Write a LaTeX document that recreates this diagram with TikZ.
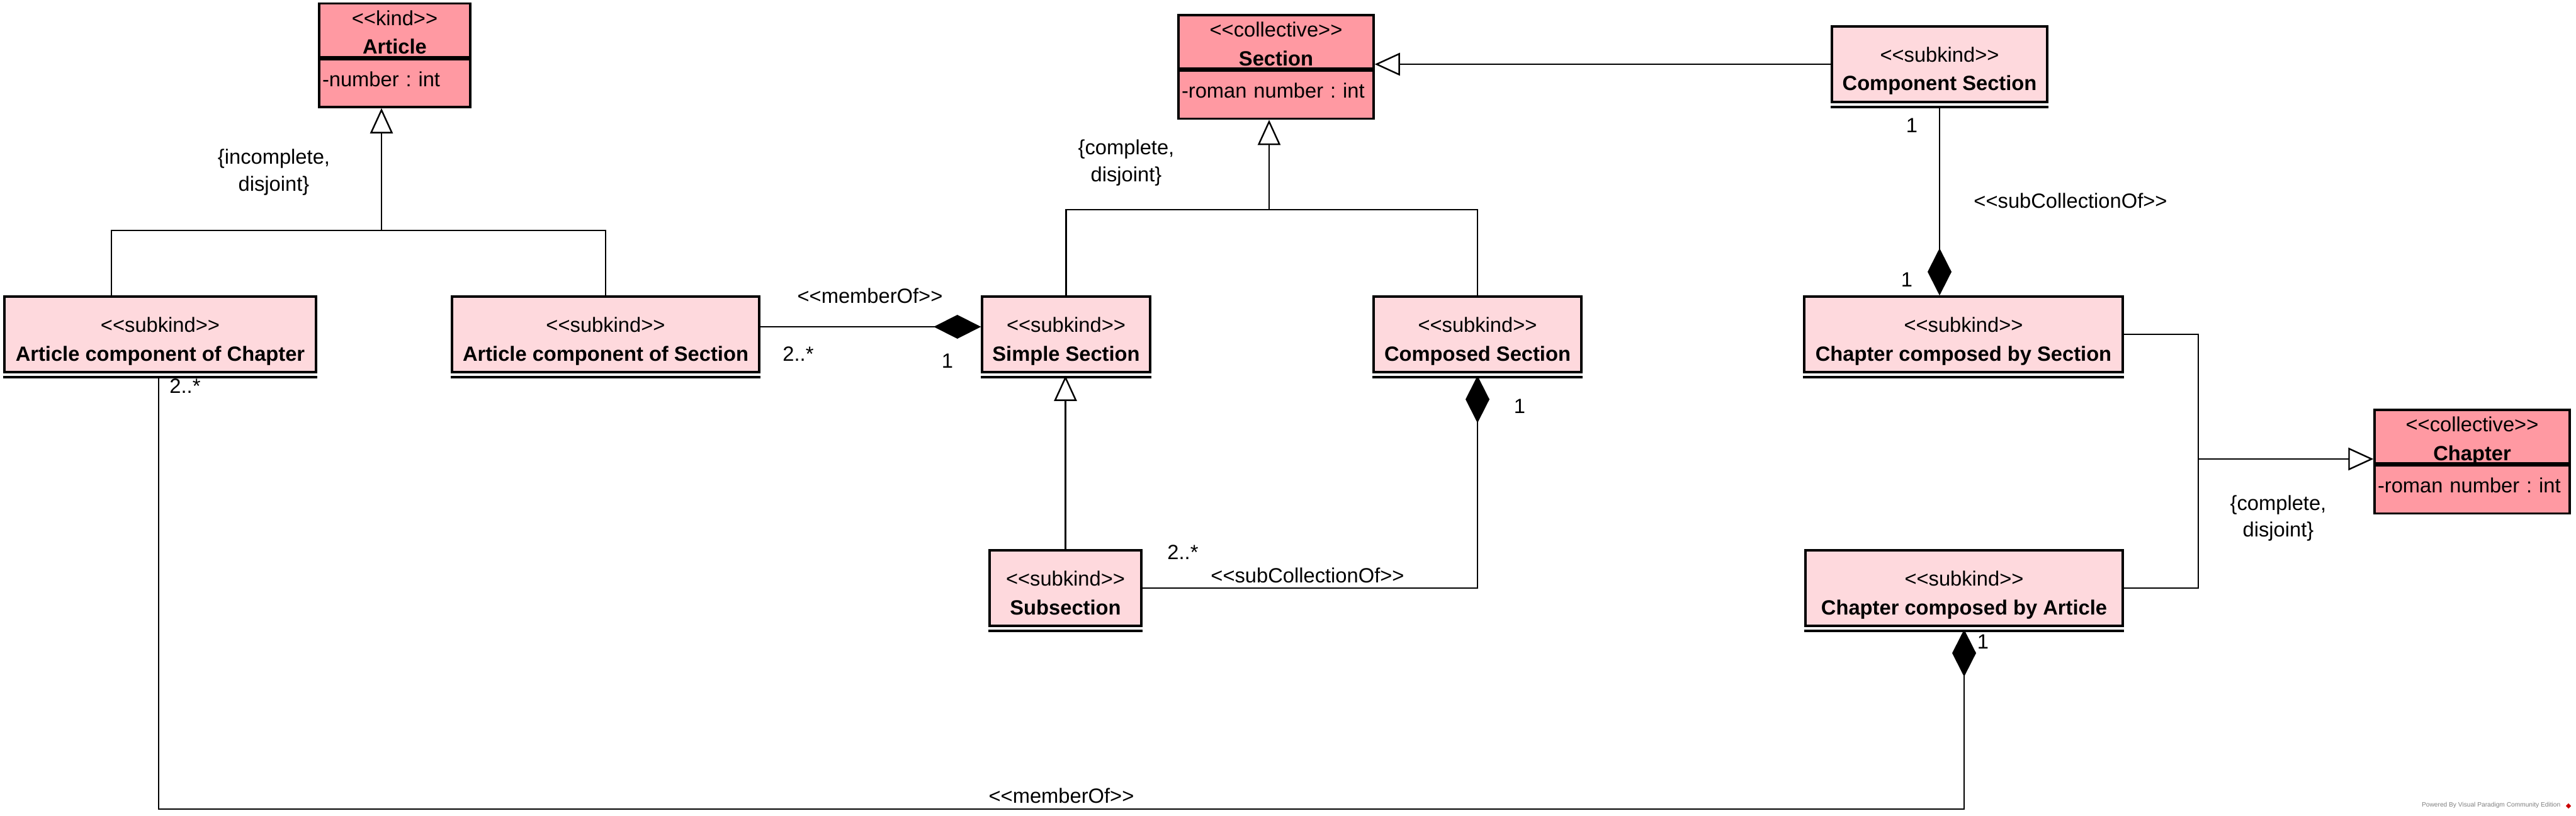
\documentclass[tikz,border=0pt]{standalone}
\usepackage{fontspec}
\setmainfont{Liberation Sans}
\usetikzlibrary{positioning, arrows.meta, shapes.geometric}
\definecolor{kindpink}{RGB}{255,153,162}
\definecolor{subpink}{RGB}{254,217,221}
\newcommand{\stereo}[1]{<{}<#1>{}>}
\frenchspacing

\begin{document}
\begin{tikzpicture}[x=1cm, y=-1cm, font=\fontsize{9.3}{13}\selectfont,
  classbox/.style={rectangle, draw, line width=1pt, align=center, inner sep=0pt, minimum width=#1,
    text height=0.84cm, text depth=0pt},
  kindhead/.style={classbox=#1, fill=kindpink, minimum height=0.85cm, text height=0.76cm},
  subbox/.style={classbox=#1, fill=subpink, minimum height=1.2cm},
  attrbox/.style={rectangle, draw, line width=1pt, fill=kindpink, text width=#1, align=left,
    inner xsep=0.05cm, inner ysep=0.1cm, text height=0.33cm, text depth=0.23cm},
  conn/.style={line width=0.7pt},
  genarrow/.style={conn, -{Triangle[open, length=0.4cm, width=0.36cm]}},
  comparrow/.style={conn, {Diamond[length=0.75cm, width=0.38cm]}-},
  lbl/.style={align=center, inner sep=0pt, font=\fontsize{9.3}{12.2}\selectfont}]
  \useasboundingbox (0,0) rectangle (40.92,12.96);

  \draw (6.27,0.48)   node[kindhead=2.4cm](article) {\stereo{kind}\\\textbf{Article}};
  \node[attrbox=2.3cm, below=0pt of article](articleattr) {-number : int};
  \draw (20.27,0.665) node[kindhead=3.1cm](section) {\stereo{collective}\\\textbf{Section}};
  \node[attrbox=3.0cm, below=0pt of section](sectionattr) {-roman number : int};
  \draw (39.27,6.935) node[kindhead=3.1cm](chapter) {\stereo{collective}\\\textbf{Chapter}};
  \node[attrbox=3.0cm, below=0pt of chapter](chapterattr) {-roman number : int};

  \draw (2.545,5.31)  node[subbox=4.95cm](acoc) {\stereo{subkind}\\\textbf{Article component of Chapter}};
  \draw (9.62,5.31)   node[subbox=4.88cm](acos) {\stereo{subkind}\\\textbf{Article component of Section}};
  \draw (16.935,5.31) node[subbox=2.67cm](simple) {\stereo{subkind}\\\textbf{Simple Section}};
  \draw (23.47,5.31)  node[subbox=3.3cm](composed) {\stereo{subkind}\\\textbf{Composed Section}};
  \draw (16.925,9.34) node[subbox=2.41cm](subsec) {\stereo{subkind}\\\textbf{Subsection}};
  \draw (30.81,1.02)  node[subbox=3.42cm](component) {\stereo{subkind}\\\textbf{Component Section}};
  \draw (31.19,5.31)  node[subbox=5.06cm](ccbs) {\stereo{subkind}\\\textbf{Chapter composed by Section}};
  \draw (31.20,9.34)  node[subbox=5.04cm](ccba) {\stereo{subkind}\\\textbf{Chapter composed by Article}};

  \foreach \n in {acoc,acos,simple,composed,subsec,component,ccbs,ccba}
    \draw[line width=1pt] ([yshift=-0.06cm]\n.south west) -- ([yshift=-0.06cm]\n.south east);

  \coordinate (g1) at (6.06,3.66);
  \coordinate (g1l) at (1.77,3.66);
  \coordinate (g2) at (20.16,3.33);
  \coordinate (g3) at (34.92,7.29);
  \coordinate (mb) at (2.52,12.85);

  \draw[genarrow] (g1) -- (g1 |- articleattr.south);
  \draw[conn] (g1l |- acoc.north) |- (g1) -| (acos.north);
  \draw[genarrow] (g2) -- (g2 |- sectionattr.south);
  \draw[conn] (simple.north) |- (g2) -| (composed.north);
  \draw[genarrow] (subsec.north) -- ([yshift=-0.04cm]subsec.north |- simple.south);
  \draw[genarrow] (component.west) -- (component.west -| section.east);
  \draw[genarrow] (g3) -- (g3 -| chapter.west);
  \draw[conn] (ccbs.east) -| (g3) |- (ccba.east);

  \draw[comparrow] ([yshift=0.12cm]simple.west) -- ([yshift=0.12cm]simple.west -| acos.east);
  \draw[comparrow] ([yshift=-0.04cm]composed.south) |- (subsec.east);
  \draw[comparrow] (component.south |- ccbs.north) -- ([yshift=-0.06cm]component.south);
  \draw[comparrow] ([yshift=-0.04cm]ccba.south) |- (mb) -- ([yshift=-0.06cm]mb |- acoc.south);

  \draw (4.35,2.735)  node[lbl] {\{incomplete,\\disjoint\}};
  \draw (17.89,2.585) node[lbl] {\{complete,\\disjoint\}};
  \draw (36.19,8.23)  node[lbl] {\{complete,\\disjoint\}};
  \draw (13.82,4.70)  node[lbl] {\stereo{memberOf}};
  \draw (12.68,5.62)  node[lbl] {2..*};
  \draw (15.05,5.73)  node[lbl] {1};
  \draw (24.14,6.45)  node[lbl] {1};
  \draw (18.79,8.77)  node[lbl] {2..*};
  \draw (20.77,9.14)  node[lbl] {\stereo{subCollectionOf}};
  \draw (30.37,1.99)  node[lbl] {1};
  \draw (30.29,4.44)  node[lbl] {1};
  \draw (32.89,3.19)  node[lbl] {\stereo{subCollectionOf}};
  \draw (2.94,6.13)   node[lbl] {2..*};
  \draw (16.86,12.64) node[lbl] {\stereo{memberOf}};
  \draw (31.50,10.19) node[lbl] {1};

  \draw (40.68,12.79) node[anchor=east, inner sep=0pt, text=gray, font=\fontsize{2.9}{3.5}\selectfont] (powered) {Powered By Visual Paradigm Community Edition};
  \draw (40.80,12.80) node[diamond, fill=red!80!black, inner sep=0pt, minimum size=0.09cm] (vplogo) {};
\end{tikzpicture}
\end{document}
